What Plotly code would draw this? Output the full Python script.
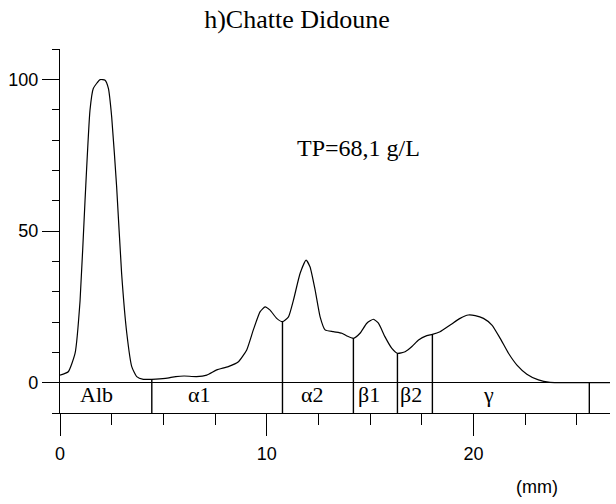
import plotly.graph_objects as go

# ---- data ----
mm = [0, 0.4, 0.73, 0.97, 1.21, 1.45, 1.61, 1.94, 2.18, 2.34,
      2.5, 2.74, 2.98, 3.23, 3.47, 3.71, 4.03, 4.44, 5.1, 5.6,
      6.0, 6.6, 7.1, 7.58, 8.14, 8.63, 9.03, 9.35, 9.68, 9.92,
      10.16, 10.48, 10.76, 11.05, 11.29, 11.61, 11.9, 12.09, 12.34, 12.58,
      12.82, 13.22, 13.63, 13.87, 14.19, 14.51, 14.84, 15.16, 15.4, 15.72,
      16.05, 16.32, 16.69, 17.02, 17.34, 17.74, 18.01, 18.38, 18.87, 19.35,
      19.75, 20.08, 20.48, 20.89, 21.29, 21.69, 22.1, 22.58, 23.14, 23.7,
      24.5, 25.5, 26.6]
density = [2.5, 3.6, 9.7, 27, 60, 89.8, 97, 99.9, 99.7, 97,
           87.6, 64.5, 36, 16.3, 5.3, 2, 1.1, 1.1, 1.4, 2.0,
           2.2, 2.0, 2.5, 4.2, 5.3, 6.9, 10.8, 17.4, 23.4, 25,
           23.9, 21.2, 20.1, 21.7, 27.2, 36, 40.4, 38.2, 30.5, 21.7,
           17.4, 16.8, 16.3, 15.4, 14.6, 16.3, 19.6, 20.9, 19.6, 15.1,
           11.3, 9.7, 10.2, 11.9, 14.1, 15.5, 15.9, 16.8, 19, 21.2,
           22.3, 22.1, 21.2, 19, 14.6, 9.7, 5.8, 2.8, 0.9, 0.1,
           0, 0, 0]

boundary_mm = [4.44, 10.76, 14.19, 16.32, 18.01, 25.6]
boundary_top = [1.1, 20.1, 14.6, 9.7, 15.9, 0]

fraction_names = ["Alb", "α1", "α2", "β1", "β2", "γ"]
fraction_mm = [1.77, 6.73, 12.2, 14.95, 16.96, 20.7]
fraction_y = -4.0

title_text = "h)Chatte Didoune"
tp_text = "TP=68,1 g/L"
x_unit = "(mm)"

x_ticks = [0, 10, 20]
y_ticks = [0, 50, 100]
x_range = [0, 26.6]
y_range = [-10, 110]

SERIF = "Liberation Serif, Times New Roman, serif"
SANS = "Liberation Sans, Arial, sans-serif"

fig = go.Figure()

fig.add_trace(go.Scatter(x=mm, y=density, mode="lines",
                         line=dict(color="black", width=1.2, shape="spline", smoothing=0.5),
                         hoverinfo="skip", showlegend=False))

for bx, bt in zip(boundary_mm, boundary_top):
    fig.add_trace(go.Scatter(x=[bx, bx], y=[y_range[0], bt], mode="lines",
                             line=dict(color="black", width=1.4),
                             hoverinfo="skip", showlegend=False))

for name, fx in zip(fraction_names, fraction_mm):
    fig.add_annotation(x=fx, y=fraction_y, xref="x", yref="y", text=name,
                       showarrow=False, font=dict(family=SERIF, size=22, color="black"),
                       xanchor="center", yanchor="middle")

fig.add_annotation(x=14.42, y=77.3, xref="x", yref="y", text=tp_text, showarrow=False,
                   font=dict(family=SERIF, size=24, color="black"),
                   xanchor="center", yanchor="middle")

fig.add_annotation(x=(537 - 60) / 550, y=(412.7 - 487) / 363.7, xref="paper", yref="paper",
                   text=x_unit, showarrow=False,
                   font=dict(family=SANS, size=18, color="black"),
                   xanchor="center", yanchor="middle")

fig.update_layout(
    width=616, height=504,
    margin=dict(l=60, r=6, t=49, b=91.3),
    paper_bgcolor="white", plot_bgcolor="white",
    title=dict(text=title_text, x=297 / 616, xanchor="center", y=1 - 19 / 504,
               yanchor="middle", font=dict(family=SERIF, size=26, color="black")),
    showlegend=False,
)

fig.update_xaxes(range=x_range, showgrid=False, zeroline=False,
                 showline=True, linecolor="black", linewidth=1.4,
                 tickmode="array", tickvals=x_ticks, ticks="outside", ticklen=22,
                 tickwidth=1.4, tickcolor="black", ticklabelstandoff=2,
                 tickfont=dict(family=SANS, size=18, color="black"),
                 minor=dict(dtick=2.5, tick0=0, ticks="outside", ticklen=11,
                            tickwidth=1.4, tickcolor="black", showgrid=False))

fig.update_yaxes(range=y_range, showgrid=False,
                 zeroline=True, zerolinecolor="black", zerolinewidth=1.2,
                 showline=True, linecolor="black", linewidth=1.4,
                 tickmode="array", tickvals=y_ticks, ticks="outside", ticklen=17,
                 tickwidth=1.4, tickcolor="black",
                 tickfont=dict(family=SANS, size=18, color="black"),
                 minor=dict(dtick=10, tick0=0, ticks="outside", ticklen=7,
                            tickwidth=1.4, tickcolor="black", showgrid=False))

fig.write_html("out.html")
